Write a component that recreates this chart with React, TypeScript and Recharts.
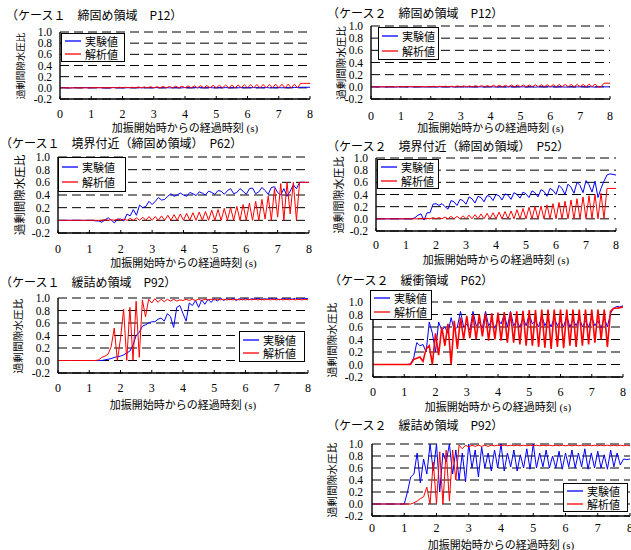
import React from 'react';
import { LineChart, Line, XAxis, YAxis, CartesianGrid, Legend } from 'recharts';

// time axis (s)
const TIME = [
  0.0, 0.1, 0.2, 0.3, 0.4, 0.5, 0.6, 0.7, 0.8, 0.9,
  1.0, 1.1, 1.2, 1.3, 1.4, 1.5, 1.6, 1.7, 1.8, 1.9,
  2.0, 2.1, 2.2, 2.3, 2.4, 2.5, 2.6, 2.7, 2.8, 2.9,
  3.0, 3.1, 3.2, 3.3, 3.4, 3.5, 3.6, 3.7, 3.8, 3.9,
  4.0, 4.1, 4.2, 4.3, 4.4, 4.5, 4.6, 4.7, 4.8, 4.9,
  5.0, 5.1, 5.2, 5.3, 5.4, 5.5, 5.6, 5.7, 5.8, 5.9,
  6.0, 6.1, 6.2, 6.3, 6.4, 6.5, 6.6, 6.7, 6.8, 6.9,
  7.0, 7.1, 7.2, 7.3, 7.4, 7.5, 7.6, 7.7, 7.8, 7.9,
  8.0,
];
const X_TICKS = [0, 1, 2, 3, 4, 5, 6, 7, 8];
const Y_TICKS = [-0.2, 0.0, 0.2, 0.4, 0.6, 0.8, 1.0];
const SERIES_NAMES = ['実験値', '解析値'];
const X_TITLE = '加振開始時からの経過時刻 (s)';
const Y_TITLE = '過剰間隙水圧比';

// ケース1 締固め領域 P12
const c1p12Exp = [
  0, 0.005, 0, -0.005, 0, 0.005, 0, 0, 0.005, 0,
  0, 0, 0.005, 0, 0, -0.005, 0, 0.005, 0, 0,
  0, 0, 0.005, 0, 0, 0.005, 0, 0, 0.005, 0,
  0, 0.005, 0, 0, 0.005, 0, 0, 0.005, 0, 0,
  0.005, 0, 0, 0.005, 0, 0.005, 0, 0, 0.005, 0,
  0, 0.005, 0, 0.005, 0, 0, 0.005, 0, 0.005, 0,
  0.005, 0, 0.005, 0, 0.005, 0, 0.005, 0, 0.005, 0,
  0.005, 0, 0.005, 0, 0.005, 0.005, 0.005, 0.01, 0.01, 0.01,
  0.01,
];
const c1p12Ana = [
  0, 0, 0, 0, 0, 0, 0, 0, 0, 0,
  0, 0.005, 0, 0.005, 0, 0.005, 0, 0.005, 0, 0.01,
  0, 0.01, 0, 0.01, 0, 0.015, 0, 0.015, 0, 0.02,
  0, 0.02, 0, 0.025, 0, 0.025, 0, 0.03, 0, 0.03,
  0, 0.035, 0, 0.035, 0, 0.04, 0, 0.04, 0, 0.045,
  0, 0.045, 0, 0.05, 0, 0.05, 0, 0.05, 0, 0.055,
  0, 0.055, 0, 0.06, 0, 0.06, 0, 0.06, 0, 0.065,
  0, 0.065, 0, 0.065, 0, 0.065, 0, 0.08, 0.08, 0.08,
  0.08,
];

// ケース2 締固め領域 P12
const c2p12Exp = [
  0, 0, -0.005, 0, 0, -0.005, 0, 0, -0.005, 0,
  0, 0, -0.005, 0, 0, -0.005, 0, 0, -0.005, 0,
  0, 0, -0.005, 0, 0, -0.005, 0, 0, -0.005, 0,
  0, 0, -0.005, 0, 0, -0.005, 0, 0, -0.005, 0,
  0, 0, -0.005, 0, 0, -0.005, 0, 0, -0.005, 0,
  0, 0, -0.005, 0, 0, -0.005, 0, 0, -0.005, 0,
  0, 0, -0.005, 0, 0, -0.005, 0, 0, -0.005, 0,
  0, 0, -0.005, 0, 0, -0.005, 0, 0, 0, 0,
  0,
];
const c2p12Ana = [
  0, 0, 0, 0, 0, 0, 0, 0, 0, 0,
  0, 0.005, 0, 0.005, 0, 0.005, 0, 0.005, 0, 0.005,
  0, 0.01, 0, 0.01, 0, 0.01, 0, 0.01, 0, 0.015,
  0, 0.015, 0, 0.015, 0, 0.02, 0, 0.02, 0, 0.02,
  0, 0.025, 0, 0.025, 0, 0.025, 0, 0.03, 0, 0.03,
  0, 0.03, 0, 0.03, 0, 0.035, 0, 0.035, 0, 0.035,
  0, 0.035, 0, 0.04, 0, 0.04, 0, 0.04, 0, 0.04,
  0, 0.04, 0, 0.045, 0, 0.045, 0, 0, 0.06, 0.06,
  0.06,
];

// ケース1 境界付近 P62
const c1p62Exp = [
  0, 0, 0, 0, 0, 0, 0, 0, 0, 0,
  0, 0, -0.01, -0.01, -0.03, 0.01, 0.04, 0.0, -0.04, 0.02,
  0.02, -0.01, 0.1, 0.07, 0.17, 0.08, 0.24, 0.2, 0.22, 0.3,
  0.25, 0.3, 0.36, 0.32, 0.33, 0.38, 0.42, 0.38, 0.4, 0.43,
  0.4, 0.38, 0.44, 0.42, 0.39, 0.45, 0.43, 0.4, 0.46, 0.44,
  0.41, 0.47, 0.46, 0.41, 0.47, 0.5, 0.42, 0.44, 0.5, 0.46,
  0.41, 0.5, 0.51, 0.42, 0.45, 0.52, 0.47, 0.41, 0.52, 0.53,
  0.44, 0.4, 0.5, 0.38, 0.46, 0.56, 0.5, 0.6, 0.6, 0.6,
  0.6,
];
const c1p62Ana = [
  0, 0, 0, 0, 0, 0, 0, 0, 0, 0,
  0, 0, 0, 0, 0, 0.01, 0, 0.01, 0, 0.02,
  0, 0.02, 0, 0.03, 0, 0.04, 0, 0.05, 0, 0.06,
  0, 0.06, 0, 0.07, 0, 0.08, 0, 0.09, 0, 0.1,
  0, 0.11, 0, 0.12, 0, 0.13, 0, 0.14, 0, 0.16,
  0, 0.17, 0, 0.19, 0, 0.2, 0, 0.22, 0, 0.25,
  0, 0.27, 0, 0.3, 0, 0.33, 0.02, 0.38, 0, 0.5,
  0.05, 0.58, 0, 0.6, 0.1, 0.6, 0, 0.6, 0.6, 0.6,
  0.6,
];

// ケース2 境界付近 P52
const c2p52Exp = [
  0, 0, 0, 0, 0, 0, 0, 0, 0, 0,
  0, 0, 0, 0.02, 0.06, 0.08, -0.02, 0.1, 0.1, 0.24,
  0.25, 0.22, 0.25, 0.2, 0.16, 0.3, 0.28, 0.22, 0.32, 0.3,
  0.24, 0.36, 0.33, 0.26, 0.37, 0.35, 0.28, 0.38, 0.37, 0.3,
  0.4, 0.38, 0.31, 0.41, 0.39, 0.32, 0.43, 0.4, 0.34, 0.44,
  0.41, 0.35, 0.46, 0.43, 0.36, 0.48, 0.45, 0.37, 0.5, 0.47,
  0.4, 0.55, 0.5, 0.4, 0.57, 0.52, 0.42, 0.6, 0.55, 0.43,
  0.63, 0.56, 0.44, 0.62, 0.35, 0.5, 0.62, 0.72, 0.74, 0.73,
  0.72,
];
const c2p52Ana = [
  0, 0, 0, 0, 0, 0, 0, 0, 0, 0,
  0, 0, 0, 0, 0, 0.01, 0, 0.01, 0, 0.02,
  0, 0.02, 0, 0.03, 0, 0.04, 0, 0.04, 0, 0.05,
  0, 0.06, 0, 0.07, 0, 0.08, 0, 0.09, 0, 0.1,
  0, 0.11, 0, 0.12, 0, 0.13, 0, 0.15, 0, 0.17,
  0, 0.19, 0, 0.2, 0, 0.21, 0, 0.23, 0, 0.25,
  0, 0.27, 0, 0.29, 0, 0.31, 0, 0.33, 0, 0.36,
  0, 0.38, 0, 0.4, 0, 0.42, 0, 0.5, 0.5, 0.5,
  0.5,
];

// ケース1 緩詰め領域 P92
const c1p92Exp = [
  0, 0, 0, 0, 0, 0, 0, 0, 0, 0,
  0, 0, 0, 0, 0, 0.01, 0.02, 0.03, 0.05, 0.06,
  0.07, 0.09, 0.12, 0.15, 0.25, 0.4, 0.45, 0.55, 0.57, 0.6,
  0.62, 0.62, 0.66, 0.68, 0.63, 0.75, 0.7, 0.53, 0.85, 0.88,
  0.75, 0.63, 0.92, 0.88, 0.96, 0.85, 0.97, 0.9, 0.98, 0.93,
  0.99, 0.95, 1.0, 0.96, 0.99, 0.97, 1.0, 0.96, 0.99, 0.97,
  1.0, 0.97, 0.99, 0.98, 1.0, 0.97, 0.99, 0.98, 1.0, 0.98,
  0.99, 0.97, 1.0, 0.98, 0.99, 0.98, 1.0, 0.98, 0.99, 0.99,
  0.99,
];
const c1p92Ana = [
  0, 0, 0, 0, 0, 0, 0, 0, 0, 0,
  0, 0, 0, 0.01, 0.05, 0.07, 0.1, 0.22, 0.52, 0.0,
  0.35, 0.82, 0.0, 0.85, 0.0, 0.95, 0.05, 0.97, 0.7, 0.98,
  0.92, 0.99, 0.93, 0.98, 0.94, 0.98, 0.95, 0.98, 0.95, 0.97,
  0.96, 0.98, 0.96, 0.98, 0.96, 0.98, 0.96, 0.98, 0.97, 0.98,
  0.97, 0.98, 0.97, 0.98, 0.97, 0.98, 0.97, 0.98, 0.97, 0.98,
  0.97, 0.98, 0.97, 0.98, 0.97, 0.98, 0.97, 0.98, 0.97, 0.98,
  0.97, 0.98, 0.97, 0.98, 0.97, 0.98, 0.97, 0.98, 0.97, 0.98,
  0.97,
];

// ケース2 緩衝領域 P62
const c2p62Exp = [
  0, 0, 0, 0, 0, 0, 0, 0, 0, 0,
  0, 0, 0.01, 0.1, 0.35, 0.3, 0.32, 0.2, 0.68, 0.5,
  0.2, 0.68, 0.55, 0.6, 0.5, 0.75, 0.55, 0.6, 0.85, 0.6,
  0.65, 0.55, 0.85, 0.62, 0.68, 0.58, 0.85, 0.62, 0.7, 0.58,
  0.72, 0.65, 0.8, 0.6, 0.85, 0.62, 0.7, 0.6, 0.75, 0.62,
  0.8, 0.65, 0.7, 0.6, 0.78, 0.62, 0.72, 0.6, 0.75, 0.62,
  0.7, 0.6, 0.78, 0.6, 0.72, 0.62, 0.75, 0.6, 0.7, 0.6,
  0.75, 0.62, 0.7, 0.58, 0.75, 0.6, 0.82, 0.9, 0.93, 0.92,
  0.94,
];
const c2p62Ana = [
  0, 0, 0, 0, 0, 0, 0, 0, 0, 0,
  0, 0, 0, 0.08, 0.1, 0.12, 0.05, 0.25, 0.3, 0.0,
  0.5, 0.15, 0.6, 0.3, 0.65, 0.0, 0.7, 0.25, 0.75, 0.4,
  0.78, 0.42, 0.8, 0.4, 0.8, 0.45, 0.82, 0.38, 0.82, 0.4,
  0.83, 0.38, 0.84, 0.35, 0.84, 0.35, 0.85, 0.32, 0.86, 0.3,
  0.87, 0.3, 0.87, 0.28, 0.88, 0.27, 0.88, 0.25, 0.88, 0.28,
  0.88, 0.26, 0.88, 0.3, 0.88, 0.28, 0.88, 0.3, 0.88, 0.32,
  0.88, 0.35, 0.88, 0.4, 0.88, 0.28, 0.85, 0.9, 0.9, 0.91,
  0.92,
];

// ケース2 緩詰め領域 P92
const c2p92Exp = [
  0, 0, 0, 0, 0, 0, 0, 0, 0, 0,
  0, 0.2, 0.45, 0.5, 0.85, 0.35, 0.75, 0.5, 1.0, 0.55,
  1.0, 0.2, 0.85, 0.7, 1.0, 0.5, 0.9, 0.4, 0.85, 0.37,
  1.0, 0.6, 0.9, 0.45, 0.95, 0.6, 0.85, 0.55, 0.9, 0.6,
  1.0, 0.55, 0.85, 0.62, 0.9, 0.55, 0.82, 0.6, 0.92, 0.58,
  1.0, 0.6, 0.85, 0.62, 0.9, 0.6, 0.8, 0.6, 0.88, 0.58,
  0.85, 0.62, 0.9, 0.6, 0.85, 0.62, 0.92, 0.58, 0.85, 0.6,
  0.88, 0.6, 0.82, 0.58, 0.9, 0.62, 0.85, 0.65, 0.75, 0.74,
  0.75,
];
const c2p92Ana = [
  0, 0, 0, 0, 0, 0, 0, 0, 0, 0,
  0, 0, 0, 0.02, 0.05, 0.09, 0.12, 0.28, 0.0, 0.7,
  0.0, 0.87, 0.0, 0.9, 0.05, 0.9, 0.4, 0.98, 0.92, 0.98,
  0.95, 0.98, 0.96, 0.98, 0.96, 0.98, 0.96, 0.98, 0.97, 0.98,
  0.97, 0.98, 0.97, 0.98, 0.97, 0.98, 0.97, 0.98, 0.97, 0.98,
  0.97, 0.98, 0.97, 0.98, 0.97, 0.98, 0.97, 0.98, 0.97, 0.98,
  0.97, 0.98, 0.97, 0.98, 0.97, 0.98, 0.97, 0.98, 0.97, 0.98,
  0.97, 0.98, 0.97, 0.98, 0.97, 0.98, 0.97, 0.98, 0.97, 0.98,
  0.97,
];

const TITLES = [
  '（ケース１　締固め領域　P12）',
  '（ケース２　締固め領域　P12）',
  '（ケース１　境界付近（締固め領域）　P62）',
  '（ケース２　境界付近（締固め領域）　P52）',
  '（ケース１　緩詰め領域　P92）',
  '（ケース２　緩衝領域　P62）',
  '（ケース２　緩詰め領域　P92）',
];

const SERIF = '"Liberation Serif", "Times New Roman", serif';
const JP_SERIF = '"Liberation Serif", "Noto Sans CJK JP", serif';
const GOTHIC = '"Noto Sans CJK JP", "Noto Sans", sans-serif';

type Cfg = {
  title: string; titleX: number; titleY: number;
  L: number; R: number; T: number; B: number;
  exp: number[]; ana: number[];
  lg: { x: number; y: number; w: number; h: number };
  yLabelX: number; yLabelSize: number; yTickGap: number;
  xTickY: number; xTitleY: number; anaWidth: number;
};

const PANELS: Cfg[] = [
  { title: TITLES[0], titleX: 6, titleY: 15, L: 60, R: 310, T: 32, B: 99, exp: c1p12Exp, ana: c1p12Ana,
    lg: { x: 61, y: 33, w: 64, h: 29 }, yLabelX: 21, yLabelSize: 9.5, yTickGap: 8, xTickY: 114, xTitleY: 128, anaWidth: 1 },
  { title: TITLES[1], titleX: 327, titleY: 13, L: 371, R: 610, T: 26, B: 99, exp: c2p12Exp, ana: c2p12Ana,
    lg: { x: 378, y: 27, w: 61, h: 33 }, yLabelX: 342, yLabelSize: 10.5, yTickGap: 8, xTickY: 116, xTitleY: 128, anaWidth: 1 },
  { title: TITLES[2], titleX: 0, titleY: 143, L: 58, R: 309, T: 157, B: 233, exp: c1p62Exp, ana: c1p62Ana,
    lg: { x: 58, y: 157, w: 68, h: 35 }, yLabelX: 20, yLabelSize: 11.5, yTickGap: 8, xTickY: 249, xTitleY: 263, anaWidth: 1 },
  { title: TITLES[3], titleX: 327, titleY: 146, L: 376, R: 616, T: 158, B: 231, exp: c2p52Exp, ana: c2p52Ana,
    lg: { x: 377, y: 159, w: 62, h: 30 }, yLabelX: 339, yLabelSize: 11, yTickGap: 8, xTickY: 245, xTitleY: 260, anaWidth: 1 },
  { title: TITLES[4], titleX: 0, titleY: 282, L: 58, R: 308, T: 298, B: 373, exp: c1p92Exp, ana: c1p92Ana,
    lg: { x: 239, y: 331, w: 66, h: 31 }, yLabelX: 18, yLabelSize: 10.7, yTickGap: 8, xTickY: 388, xTitleY: 405, anaWidth: 1 },
  { title: TITLES[5], titleX: 329, titleY: 280, L: 373, R: 623, T: 302, B: 377, exp: c2p62Exp, ana: c2p62Ana,
    lg: { x: 370, y: 290, w: 62, h: 30 }, yLabelX: 332, yLabelSize: 10.7, yTickGap: 10, xTickY: 392, xTitleY: 407, anaWidth: 1.6 },
  { title: TITLES[6], titleX: 327, titleY: 425, L: 372, R: 630, T: 444, B: 516, exp: c2p92Exp, ana: c2p92Ana,
    lg: { x: 563, y: 483, w: 65, h: 29 }, yLabelX: 332, yLabelSize: 10.7, yTickGap: 9, xTickY: 528, xTitleY: 545, anaWidth: 1 },
];

const LegendBox = ({ payload, w, h }: any) => (
  <div style={{
    width: w, height: h, boxSizing: 'border-box', border: '1px solid #000', background: '#fff',
    display: 'flex', flexDirection: 'column', justifyContent: 'space-evenly', padding: '0 3px',
    fontFamily: GOTHIC, fontSize: 11, lineHeight: '12px', color: '#000',
  }}>
    {(payload || []).map((p: any) => (
      <div key={p.value} style={{ display: 'flex', alignItems: 'center' }}>
        <svg width={16} height={4} style={{ flex: 'none' }}>
          <line x1={0} y1={2} x2={16} y2={2} stroke={p.color} strokeWidth={1.3} />
        </svg>
        <span style={{ marginLeft: 4, whiteSpace: 'nowrap' }}>{p.value}</span>
      </div>
    ))}
  </div>
);

const Panel = ({ c }: { c: Cfg }) => {
  const rows = TIME.map((t, i) => ({ t, exp: c.exp[i], ana: c.ana[i] }));
  const left = c.L - 60;
  const top = c.T - 5;
  const W = c.R - c.L + 65;
  const H = c.B - c.T + 45;
  const xTickBase = c.xTickY - c.B + 4;
  const xTick = (p: any) => (
    <g>
      <line x1={p.x} x2={p.x} y1={p.y} y2={p.y - 3} stroke="#000" strokeWidth={1} />
      <text x={p.x} y={p.y + xTickBase} textAnchor="middle" fontFamily={SERIF} fontSize={12} fill="#000">
        {p.payload.value}
      </text>
    </g>
  );
  const yTick = (p: any) => (
    <text x={p.x - c.yTickGap} y={p.y + 4} textAnchor="end" fontFamily={SERIF} fontSize={11.5} fill="#000">
      {Number(p.payload.value).toFixed(1)}
    </text>
  );
  return (
    <>
      <div style={{ position: 'absolute', left: c.titleX, top: c.titleY - 6, fontFamily: GOTHIC, fontSize: 12,
        lineHeight: '12px', whiteSpace: 'nowrap', color: '#000' }}>{c.title}</div>
      <div style={{ position: 'absolute', left: c.yLabelX, top: (c.T + c.B) / 2, transform: 'translate(-50%, -50%) rotate(-90deg)',
        fontFamily: JP_SERIF, fontSize: c.yLabelSize, lineHeight: '12px', whiteSpace: 'nowrap', color: '#000' }}>{Y_TITLE}</div>
      <div style={{ position: 'absolute', left: (c.L + c.R) / 2, top: c.xTitleY, transform: 'translate(-50%, -50%)',
        fontFamily: JP_SERIF, fontSize: 11, lineHeight: '13px', whiteSpace: 'nowrap', color: '#000' }}>{X_TITLE}</div>
      <div style={{ position: 'absolute', left, top }}>
        <LineChart width={W} height={H} data={rows} margin={{ top: 5, right: 5, bottom: 0, left: 0 }}>
          <CartesianGrid vertical={false} stroke="#000" strokeDasharray="9 5" strokeWidth={1} />
          <XAxis dataKey="t" type="number" domain={[0, 8]} ticks={X_TICKS} interval={0} height={40}
            tickSize={0} tickMargin={0} tickLine={false} axisLine={{ stroke: '#000', strokeWidth: 1.4 }}
            tick={xTick} allowDataOverflow />
          <XAxis xAxisId="top" orientation="top" dataKey="t" type="number" domain={[0, 8]} height={0}
            tick={false} tickLine={false} axisLine={{ stroke: '#000', strokeWidth: 1 }} />
          <YAxis type="number" domain={[-0.2, 1.0]} ticks={Y_TICKS} interval={0} width={60}
            tickSize={0} tickMargin={0} tickLine={false} axisLine={{ stroke: '#000', strokeWidth: 1.4 }}
            tick={yTick} allowDataOverflow />
          <YAxis yAxisId="right" orientation="right" type="number" domain={[-0.2, 1.0]} width={0}
            tick={false} tickLine={false} axisLine={{ stroke: '#000', strokeWidth: 1 }} />
          <Line type="linear" dataKey="exp" name={SERIES_NAMES[0]} stroke="#0000ff" strokeWidth={1}
            dot={false} activeDot={false} isAnimationActive={false} />
          <Line type="linear" dataKey="ana" name={SERIES_NAMES[1]} stroke="#ff0000" strokeWidth={c.anaWidth}
            dot={false} activeDot={false} isAnimationActive={false} />
          <Legend layout="horizontal" verticalAlign="middle" align="center"
            wrapperStyle={{ left: c.lg.x - left, top: c.lg.y - top, width: 'auto', height: 'auto' }}
            content={(props: any) => <LegendBox payload={props.payload} w={c.lg.w} h={c.lg.h} />} />
        </LineChart>
      </div>
    </>
  );
};

export default function App() {
  return (
    <div style={{ position: 'absolute', left: 0, top: 0, width: 631, height: 550, overflow: 'hidden', background: '#fff' }}>
      {PANELS.map((c, i) => <Panel key={i} c={c} />)}
    </div>
  );
}
